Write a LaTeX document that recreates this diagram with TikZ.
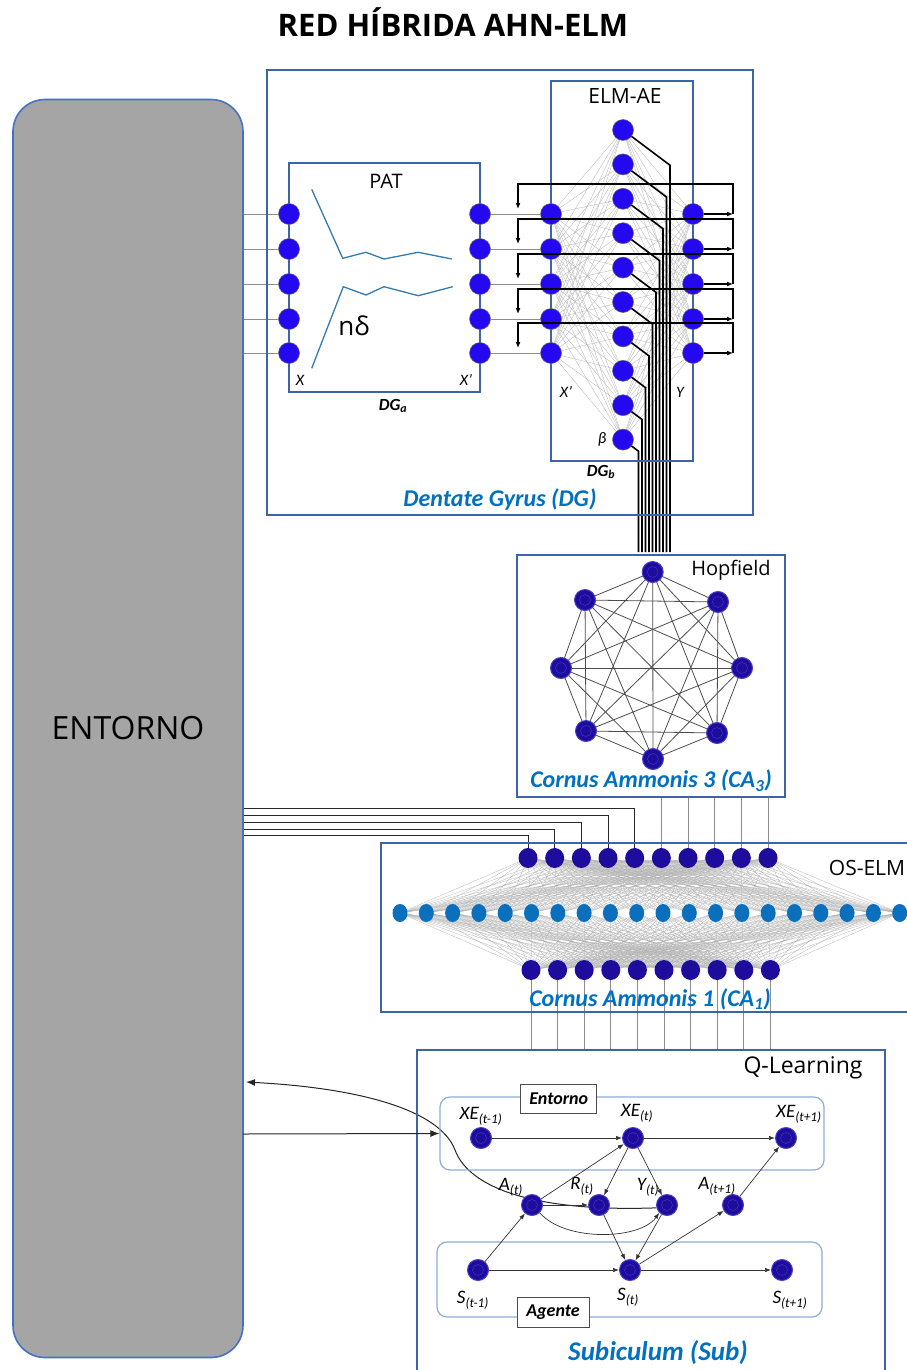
\documentclass[tikz,border=0pt]{standalone}
\usepackage{fontspec}
\setmainfont{Open Sans}
\newfontfamily\cfont{Carlito}
\usetikzlibrary{arrows.meta,backgrounds,shapes.geometric}
\definecolor{entfill}{HTML}{A5A5A5}
\definecolor{entline}{HTML}{4472C4}
\definecolor{boxline}{HTML}{3D64A4}
\definecolor{dgblue}{HTML}{2408F0}
\definecolor{navy}{HTML}{1E0C9C}
\definecolor{navyring}{HTML}{4A3FCB}
\definecolor{midblue}{HTML}{0A70BE}
\definecolor{lblue}{HTML}{0070C0}
\definecolor{grpline}{HTML}{8FAADC}
\tikzset{
  bx/.style={draw=boxline, line width=1.4pt, inner sep=0},
  dgn/.style={circle, fill=dgblue, draw=black!60, line width=0.5pt, minimum size=21pt, inner sep=0},
  hn/.style={circle, fill=navy, draw=navyring, line width=1pt, minimum size=21pt, inner sep=0,
    path picture={\draw[navyring!70!navy, line width=0.6pt] (path picture bounding box.center) circle (5.5pt);}},
  on/.style={ellipse, fill=navy, minimum width=19pt, minimum height=20pt, inner sep=0},
  mn/.style={ellipse, fill=midblue, minimum width=15pt, minimum height=18pt, inner sep=0},
  gline/.style={draw=black!45, line width=0.9pt},
  mesh/.style={draw=black!30, line width=0.3pt},
  omesh/.style={draw=black!32, line width=0.25pt},
  fb/.style={draw=black, line width=1.4pt},
  bund/.style={draw=black, line width=1.6pt},
  hedge/.style={draw=black!70, line width=0.8pt},
  dline/.style={draw=black!85, line width=1pt},
  qa/.style={draw=black!80, line width=0.7pt, -{Latex[length=6pt,width=4.5pt]}},
  grp/.style={draw=grpline, line width=1.2pt, rounded corners=10pt, inner sep=0},
  tag/.style={draw=black!70, fill=white, line width=0.8pt, inner sep=0, minimum height=29pt,
    font=\cfont\fontsize{18}{20}\selectfont\bfseries\itshape},
  ql/.style={font=\cfont\fontsize{19}{21}\selectfont\itshape},
  sl/.style={font=\cfont\fontsize{16}{18}\selectfont\itshape},
  sb/.style={font=\cfont\fontsize{17}{19}\selectfont\bfseries\itshape},
  bl/.style={font=\cfont\fontsize{24}{27}\selectfont\bfseries\itshape, text=lblue},
  hd/.style={font=\fontsize{20}{23}\selectfont},
}
\begin{document}
\begin{tikzpicture}[x=1pt,y=-1pt]
\useasboundingbox (0,0) rectangle (907,1370);

% title
\node[font=\fontsize{31}{36}\selectfont\bfseries] (title) at (453,22) {RED HÍBRIDA AHN-ELM};

% ENTORNO
\node[draw=entline, fill=entfill, line width=1.6pt, rounded corners=32pt, minimum width=230pt,
  minimum height=1258pt, inner sep=0, font=\fontsize{32}{36}\selectfont] (entorno) at (128,728.5) {ENTORNO};

% ---------------- Dentate Gyrus ----------------
\node[bx, minimum width=486pt, minimum height=445pt] (dg) at (510,292.5) {};
\node[bx, minimum width=191pt, minimum height=229pt] (pat) at (384.5,277.5) {};
\node[bx, minimum width=142pt, minimum height=380pt] (elm) at (622,271) {};
\node[hd] (pattxt) at (386,181) {PAT};
\node[hd, font=\fontsize{21}{24}\selectfont] (elmtxt) at (625,96) {ELM-AE};
\node[font=\fontsize{26}{29}\selectfont] (nd) at (354,326) {nδ};
\node[sl] (lx) at (300,380) {X};
\node[sl] (lxp) at (466,380) {X’};
\node[sb] (dga) at (393,406) {DG\textsubscript{a}};
\node[sl] (lxp2) at (566,392) {X’};
\node[sl] (ly) at (680,392) {Y};
\node[sl] (lb) at (602,439) {β};
\node[sb] (dgb) at (601,472) {DG\textsubscript{b}};
\node[bl] (dgl) at (500,499) {Dentate Gyrus (DG)};

% PAT zigzags
\draw[draw=lblue!80!black!80, line width=1.3pt] (311.7,189.3) -- (342.7,258.3) -- (366,252.3) -- (384,259) -- (418.3,252.3) -- (451.7,259);
\draw[draw=lblue!80!black!80, line width=1.3pt] (311.7,368.3) -- (343.3,286.7) -- (366,295) -- (384,286.7) -- (418.3,295.7) -- (452.7,286.7);

\foreach \y [count=\i] in {214,249,284,319,353} {
  \node[dgn] (pl\i) at (289,\y) {};
  \node[dgn] (pr\i) at (480,\y) {};
  \node[dgn] (el\i) at (551,\y) {};
  \node[dgn] (er\i) at (693,\y) {};
}
\foreach \i in {1,...,10} {
  \node[dgn] (em\i) at (623,{130+34.4*(\i-1)}) {};
}

\begin{pgfonlayer}{background}
  \foreach \i in {1,...,5} {
    \draw[gline] (entorno.east |- pl\i) -- (pl\i);
    \draw[gline] (pr\i) -- (el\i);
    \foreach \k in {1,...,10} {
      \draw[mesh] (el\i.center) -- (em\k.center);
      \draw[mesh] (em\k.center) -- (er\i.center);
    }
  }
  \foreach \k in {1,...,10} {
    \pgfmathsetmacro{\bx}{670-(\k-1)*3.5}
    \pgfmathsetmacro{\by}{130+34.4*(\k-1)+0.75*(\bx-623)}
    \coordinate (bt\k) at (\bx,\by);
    \coordinate (bb\k) at (\bx,552);
    \draw[bund] (em\k.center) -- (bt\k) -- (bb\k);
  }
\end{pgfonlayer}

% feedback loops
\foreach \y [count=\i] in {214,249,284,319,353} {
  \coordinate (fr\i) at (733,\y);
  \coordinate (ft\i) at (733,\y-30);
  \coordinate (fl\i) at (518,\y-30);
  \coordinate (fe\i) at (518,\y-5);
  \draw[fb, -{Latex[length=6pt,width=5pt]}] (er\i) -- (fr\i);
  \draw[fb, -{Latex[length=6pt,width=5pt]}] (fr\i) -- (ft\i) -- (fl\i) -- (fe\i);
}

% ---------------- Hopfield / CA3 ----------------
\node[bx, fill=none, minimum width=268pt, minimum height=242pt] (hop) at (651,676) {};
\node[hd] (hoptxt) at (731,570) {Hopfield};
\node[bl] (ca3) at (651,781) {Cornus Ammonis 3 (CA\textsubscript{3})};
\node[hn] (h1) at (652.7,572) {};
\node[hn] (h2) at (718,602) {};
\node[hn] (h3) at (742,668) {};
\node[hn] (h4) at (717,733) {};
\node[hn] (h5) at (653,759) {};
\node[hn] (h6) at (586,731) {};
\node[hn] (h7) at (561,668) {};
\node[hn] (h8) at (585,600) {};
\begin{pgfonlayer}{background}
  \foreach \a in {1,...,8} {
    \foreach \b in {1,...,8} {
      \ifnum\a<\b \draw[hedge] (h\a.center) -- (h\b.center); \fi
    }
  }
\end{pgfonlayer}

% ---------------- OS-ELM / CA1 ----------------
\draw[draw=boxline, line width=1.4pt] (907,843) -- (381,843) -- (381,1012) -- (907,1012);
\node[hd, font=\fontsize{21}{24}\selectfont] (osel) at (867,868) {OS-ELM};
\node[bl] (ca1) at (650,999) {Cornus Ammonis 1 (CA\textsubscript{1})};
\foreach \i in {1,...,10} {
  \node[on] (t\i) at ({528+26.67*(\i-1)},858) {};
  \node[on] (b\i) at ({531+26.6*(\i-1)},970) {};
}
\foreach \j in {1,...,20} {
  \node[mn] (m\j) at ({400+26.3*(\j-1)},913) {};
}
\begin{pgfonlayer}{background}
  \foreach \i in {1,...,10} {
    \foreach \j in {1,...,20} {
      \draw[omesh] (t\i.center) -- (m\j.center);
      \draw[omesh] (m\j.center) -- (b\i.center);
    }
  }
  \foreach \i in {6,...,10} {
    \draw[gline] (t\i.center) -- (t\i |- hop.south);
  }
  \foreach \i/\yy in {1/835,2/829,3/822,4/815,5/808} {
    \coordinate (eo\i) at (243,\yy);
    \draw[dline] (eo\i) -| (t\i.center);
  }
  \foreach \i in {1,...,10} {
    \draw[gline] (b\i.center) -- (b\i |- 0,1050);
  }
\end{pgfonlayer}

% ---------------- Q-Learning / Subiculum ----------------
\draw[draw=boxline, line width=1.4pt] (417,1372) -- (417,1050) -- (885,1050) -- (885,1372);
\node[font=\fontsize{23}{26}\selectfont] (qtxt) at (803,1068) {Q-Learning};
\node[bl, font=\cfont\fontsize{27}{30}\selectfont\bfseries\itshape] (sub) at (658,1353) {Subiculum (Sub)};
\node[grp, minimum width=384pt, minimum height=73pt] (genv) at (632,1133.5) {};
\node[grp, minimum width=385pt, minimum height=75pt] (gag) at (629.5,1279.5) {};
\node[tag, minimum width=76pt] (tenv) at (558.7,1098.5) {Entorno};
\node[tag, minimum width=72pt, minimum height=30pt] (tag2) at (553,1312.5) {Agente};

\node[hn] (xe1) at (481,1138) {};
\node[hn] (xe2) at (633,1138) {};
\node[hn] (xe3) at (786,1138) {};
\node[hn] (at) at (532,1205) {};
\node[hn] (rt) at (599,1205) {};
\node[hn] (yt) at (667,1205) {};
\node[hn] (at1) at (733,1205) {};
\node[hn] (s1) at (478,1270) {};
\node[hn] (s2) at (630,1270) {};
\node[hn] (s3) at (782,1270) {};

\node[ql] (lxe1) at (481,1116) {XE\textsubscript{(t-1)}};
\node[ql] (lxe2) at (637,1113) {XE\textsubscript{(t)}};
\node[ql] (lxe3) at (799,1114) {XE\textsubscript{(t+1)}};
\node[ql] (lat) at (511,1187) {A\textsubscript{(t)}};
\node[ql] (lrt) at (582,1186) {R\textsubscript{(t)}};
\node[ql] (lyt) at (648,1187) {Y\textsubscript{(t)}};
\node[ql] (lat1) at (717,1186) {A\textsubscript{(t+1)}};
\node[ql] (ls1) at (473,1300) {S\textsubscript{(t-1)}};
\node[ql] (ls2) at (628,1297) {S\textsubscript{(t)}};
\node[ql] (ls3) at (790,1300) {S\textsubscript{(t+1)}};

\draw[qa] (xe1) -- (xe2);
\draw[qa] (xe2) -- (xe3);
\draw[qa] (at) -- (xe2);
\draw[qa] (xe2) -- (rt);
\draw[qa] (xe2) -- (yt);
\draw[qa] (at) -- (rt);
\draw[qa] (at.south east) .. controls (565,1242) and (640,1240) .. (yt.south west);
\draw[qa] (at1) -- (xe3);
\draw[qa] (s1) -- (at);
\draw[qa] (s1) -- (s2);
\draw[qa] (rt) -- (s2);
\draw[qa] (yt) -- (s2);
\draw[qa] (s2) -- (at1);
\draw[qa] (s2) -- (s3);

\coordinate (envin) at (243,1134);
\coordinate (envout) at (246,1082);
\draw[draw=black!85, line width=1pt, -{Latex[length=9pt,width=7pt]}] (envin) -- (genv.west);
\begin{pgfonlayer}{background}
\draw[draw=black!85, line width=1pt, -{Latex[length=9pt,width=7pt]}] (yt.195) .. controls (540,1212) and (470,1190) .. (455,1150) .. controls (440,1110) and (360,1088) .. (envout);
\end{pgfonlayer}
\end{tikzpicture}
\end{document}
